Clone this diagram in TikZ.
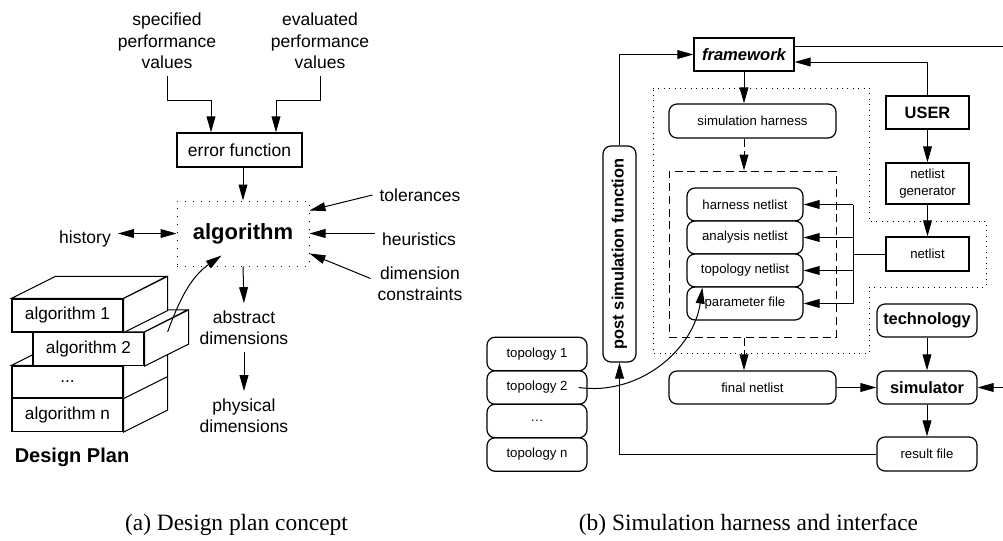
\documentclass[tikz,border=0pt]{standalone}
\usepackage{fontspec}
\setmainfont{Liberation Serif}
\setsansfont{Liberation Sans}
\usetikzlibrary{arrows.meta,calc}

\begin{document}
\begin{tikzpicture}[x=0.5pt,y=-0.5pt,>={Triangle[length=8pt,width=4.4pt]},
  line width=0.5pt,
  lefttext/.style={align=center,font=\sffamily\fontsize{8.75}{10.75}\selectfont},
  righttext/.style={align=center,font=\sffamily\fontsize{6.6}{8.5}\selectfont},
  rightbold/.style={font=\sffamily\bfseries\fontsize{8.2}{10}\selectfont},
  box/.style={draw,line width=0.6pt,inner sep=1pt},
  rbox/.style={box,rounded corners=4pt},
  layer/.style={box,fill=white,minimum width=55.5pt,minimum height=16.5pt,
    font=\sffamily\fontsize{8.6}{10}\selectfont}]
  \tikzstyle{dotline} = [dash pattern=on 0.5pt off 2.2pt]
  \useasboundingbox (0,0) rectangle (1003,541);

  % (a) design plan
  \node[lefttext] (spec) at (167,41) {specified\\performance\\values};
  \node[lefttext] (eval) at (320,41) {evaluated\\performance\\values};
  \node[box,lefttext,minimum width=62.5pt,minimum height=17pt] (err) at (239.5,150) {error function};
  \node[draw,dash pattern=on 0.5pt off 3.5pt,minimum width=66pt,minimum height=32.5pt,
    font=\sffamily\bfseries\fontsize{11}{13}\selectfont] (alg) at (243,233.5) {algorithm};
  \node[lefttext] (tol) at (420,195) {tolerances};
  \node[lefttext] (heur) at (419,239) {heuristics};
  \node[lefttext] (dimc) at (420,283.5) {dimension\\constraints};
  \node[lefttext] (hist) at (85,239) {history};
  \node[lefttext] (abs) at (244,327.5) {abstract\\dimensions};
  \node[lefttext] (phys) at (244,415.5) {physical\\dimensions};

  \coordinate (bend) at (0,100);
  \draw[->] (spec.south) -- (spec.south |- bend) -| ([xshift=-14.25pt]err.north);
  \draw[->] (eval.south) -- (eval.south |- bend) -| ([xshift=18.25pt]err.north);
  \draw[->] (alg.north |- err.south) -- (alg.north);
  \draw[->] (tol.west) -- ([yshift=-5pt]alg.north east);
  \draw[->] (alg.east -| heur.west) -- (alg.east);
  \draw[->] ([yshift=2.5pt]dimc.west) -- ([yshift=6.5pt]alg.south east);
  \draw[<->] (alg.west -| hist.east) -- (alg.west);
  \draw[->] (alg.south) -- (abs.north);
  \draw[->] (abs.south) -- (phys.north);

  \node[layer] (algn) at (67.5,415) {algorithm n};
  \node[layer,minimum height=16pt] (dots) at (67.5,382) {...};
  \draw[fill=white] (dots.north west) -- ++(44,-22) -- ++(111,0) -- (dots.north east) -- cycle;
  \draw[fill=white] (dots.north east) -- ++(44,-22) -- ($(algn.south east)+(44,-22)$) -- (algn.south east) -- cycle;
  \draw (dots.south east) -- ++(44,-22);
  \node[layer] (alg2) at (88.5,349) {algorithm 2};
  \draw[fill=white] (alg2.north west) -- ++(44,-22) -- ++(111,0) -- (alg2.north east) -- cycle;
  \draw[fill=white] (alg2.north east) -- ++(44,-22) -- ($(alg2.south east)+(44,-22)$) -- (alg2.south east) -- cycle;
  \node[layer] (alg1) at (67.5,315.5) {algorithm 1};
  \draw[fill=white] (alg1.north west) -- ++(44,-22) -- ++(111,0) -- (alg1.north east) -- cycle;
  \draw[fill=white] (alg1.north east) -- ++(44,-22) -- ($(alg1.south east)+(44,-22)$) -- (alg1.south east) -- cycle;
  \coordinate (pick) at ($(alg2.east)+(23,-17)$);
  \draw[->] (pick) to[out=70,in=215] ([xshift=22.5pt,yshift=5.5pt]alg.south west);

  \node[font=\sffamily\bfseries\fontsize{10}{12}\selectfont] (plan) at (72,457) {Design Plan};

  % (b) simulation harness
  \draw[dotline] (653,88) -- (869,88) -- (869,221) -- (986,221) -- (986,287)
    -- (869,287) -- (869,353) -- (653,353) -- cycle;
  \node[box,font=\sffamily\bfseries\itshape\fontsize{8.3}{10}\selectfont,
    minimum width=50pt,minimum height=16.5pt] (fw) at (744,54.5) {framework};
  \node[box,rightbold,minimum width=41.5pt,minimum height=16.5pt] (user) at (927.5,112.5) {USER};
  \node[box,righttext,minimum width=41.5pt,minimum height=20.5pt] (gen) at (927.5,183.5) {netlist\\generator};
  \node[box,righttext,minimum width=41.5pt,minimum height=17pt] (netl) at (927.5,254) {netlist};
  \node[rbox,righttext,minimum width=83.5pt,minimum height=17pt] (simh) at (752.5,121) {simulation harness};
  \node[draw,dash pattern=on 4pt off 2.4pt,minimum width=83.5pt,minimum height=83pt] (hbox) at (752.5,254) {};
  \foreach \n/\t [count=\i] in {hn/harness netlist,an/analysis netlist,tn/topology netlist,pf/parameter file}
    \node[rbox,righttext,fill=white,minimum width=58pt,minimum height=16.5pt] (\n) at (745,171.5+33*\i) {\t};
  \node[rbox,rightbold,rotate=90,minimum width=108pt,minimum height=16.5pt] (psf) at (619.5,254) {post simulation function};
  \node[rbox,righttext,minimum width=83.5pt,minimum height=16.5pt] (fin) at (752.5,387.5) {final netlist};
  \node[rbox,rightbold,minimum width=50pt,minimum height=16.5pt] (tech) at (927,320.5) {technology};
  \node[rbox,rightbold,minimum width=50pt,minimum height=16.5pt] (sim) at (927,387.5) {simulator};
  \node[rbox,righttext,minimum width=50pt,minimum height=17pt] (res) at (927,454) {result file};
  \foreach \n/\t [count=\i] in {top1/topology 1,top2/topology 2,topd/\ldots,topn/topology n}
    \node[rbox,righttext,minimum width=50pt,minimum height=16.75pt] (\n) at (537,320.5+33.5*\i) {\t};

  \coordinate (outr) at (1003,46);
  \coordinate (inr) at (1003,387.5);
  \coordinate (bus) at (853,254);
  \draw[->] (psf.east) |- (fw.west);
  \draw[->] (user.north) |- ([yshift=-3.75pt]fw.east);
  \draw ([yshift=4.25pt]fw.east) -- (outr);
  \draw[->] (fw.south) -- (fw.south |- simh.north);
  \draw[->,dash pattern=on 4pt off 2.4pt] (fw.south |- simh.south) -- (fw.south |- hbox.north);
  \draw[->,dash pattern=on 4pt off 2.4pt] (fw.south |- hbox.south) -- (fw.south |- fin.north);
  \draw[->] (user) -- (gen);
  \draw[->] (gen) -- (netl);
  \draw (netl.west) -- (bus);
  \draw (bus |- hn.east) -- (bus |- pf.east);
  \foreach \n in {hn,an,tn,pf} \draw[->] (bus |- \n.east) -- (\n.east);
  \draw[->] (fin) -- (sim);
  \draw[->] (tech) -- (sim);
  \draw[->] (inr) -- (sim.east);
  \draw[->] (sim) -- (res);
  \draw[->] (res.west) -| (psf.west);
  \draw[->] ([xshift=-4.5pt]top2.east) to[out=-8,in=262] ([xshift=8pt]tn.south west);

  \node[font=\fontsize{11.7}{14}\selectfont] (capa) at (236.5,525) {(a) Design plan concept};
  \node[font=\fontsize{11.7}{14}\selectfont] (capb) at (748.5,525) {(b) Simulation harness and interface};
\end{tikzpicture}
\end{document}
